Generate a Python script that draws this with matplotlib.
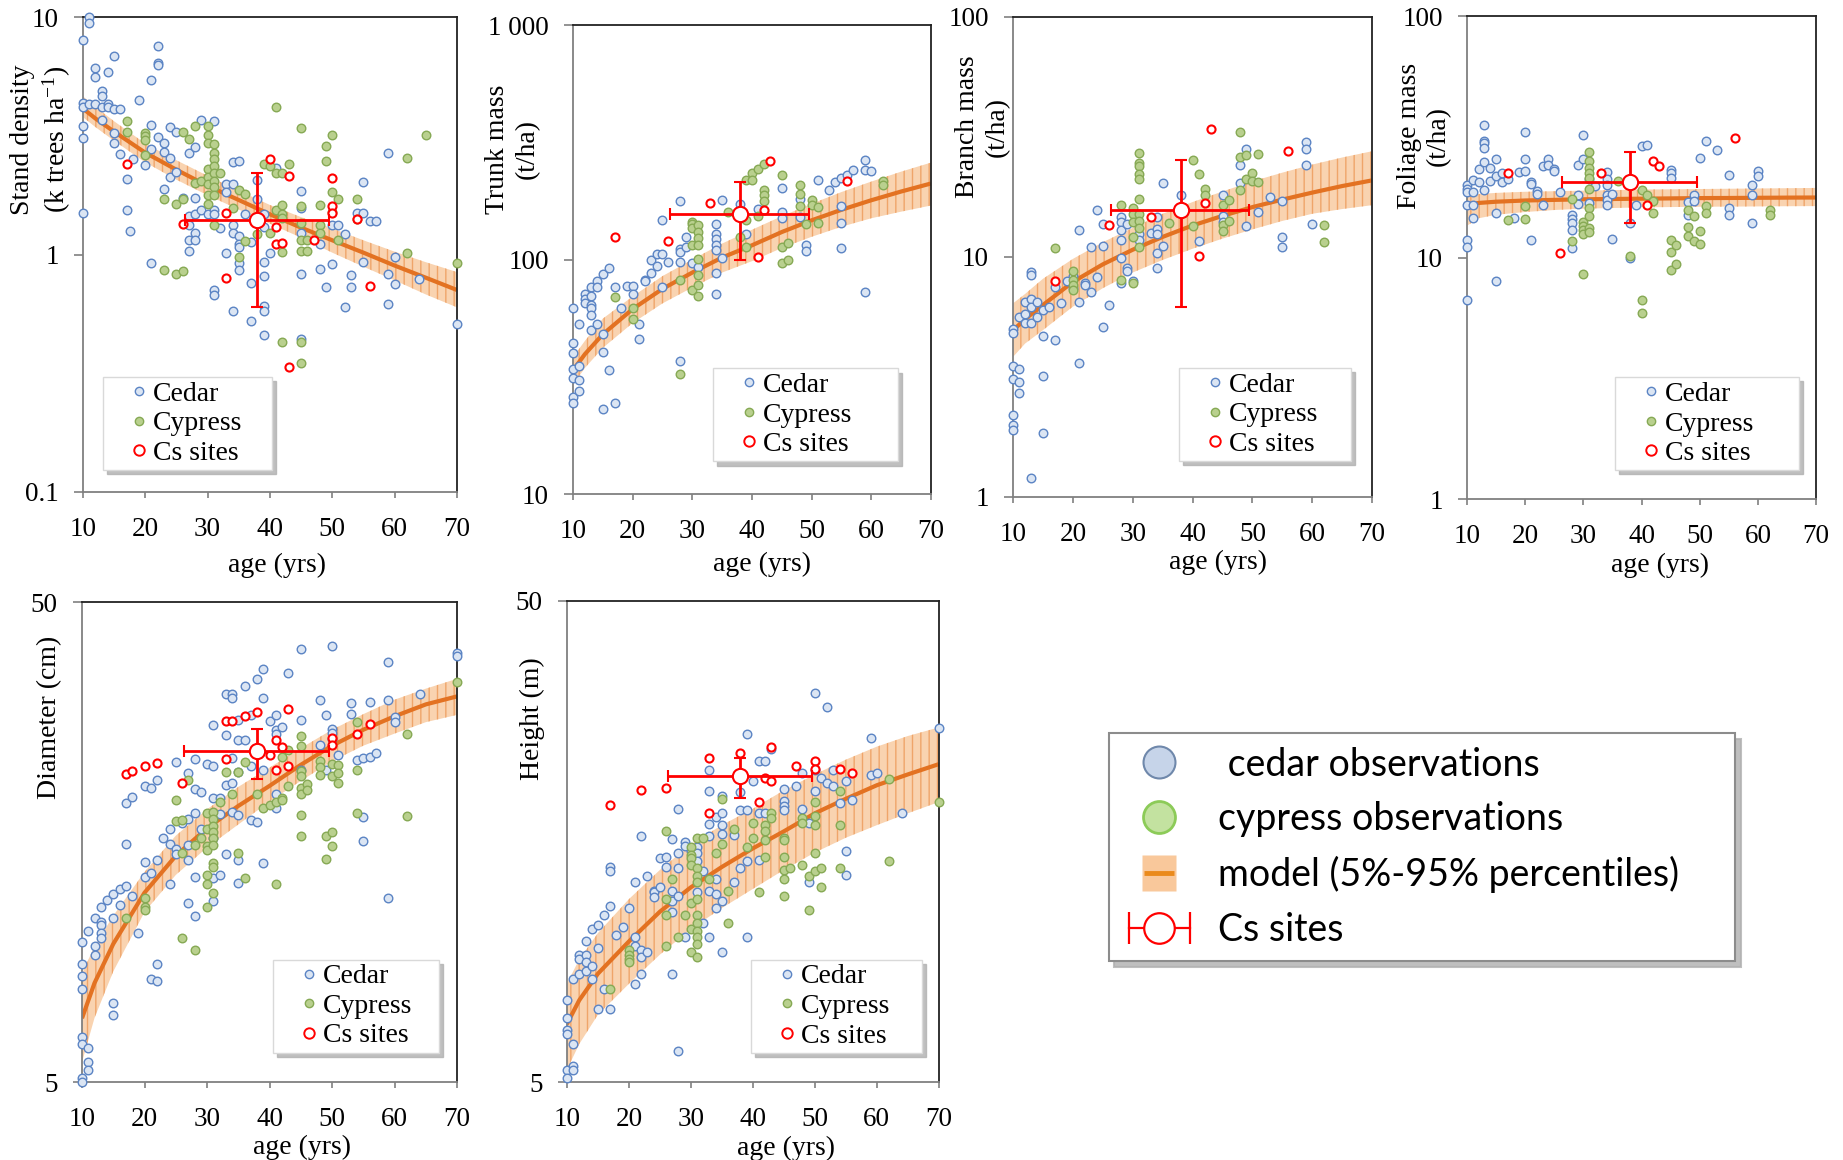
import matplotlib
matplotlib.use('Agg')
import matplotlib.pyplot as plt
from matplotlib.lines import Line2D
from matplotlib.path import Path
from matplotlib.ticker import NullLocator
from matplotlib.legend_handler import HandlerLine2D, HandlerTuple

plt.rcParams['font.family'] = ['Liberation Serif', 'DejaVu Serif']
plt.rcParams['mathtext.fontset'] = 'custom'
plt.rcParams['mathtext.rm'] = 'Liberation Serif'
plt.rcParams['mathtext.it'] = 'Liberation Serif:italic'
plt.rcParams['hatch.linewidth'] = 1.0

# ---------------- data ----------------
cs_age_mean, cs_age_lo, cs_age_hi = 38, 26.3, 49.5
model_age = [10, 12, 15, 20, 25, 30, 35, 40, 45, 50, 55, 60, 65, 70]

# stand density (k trees/ha)
density_cedar = [(10, 8.0), (10, 4.36), (10, 4.2), (10, 3.5), (10, 3.1), (10, 1.5), (11, 10.0), (11, 9.5), (11, 4.3),
                 (12, 6.1), (12, 5.6), (12, 4.3), (13, 4.9), (13, 4.65), (13, 4.2), (13, 3.7), (14, 5.9), (14, 4.3),
                 (14, 4.2), (15, 6.9), (15, 4.1), (15, 3.27), (15, 2.96), (16, 4.1), (16, 2.66), (17, 2.09), (17, 1.55),
                 (17.5, 1.26), (18, 2.54), (19, 4.5), (20, 2.39), (21, 5.45), (21, 3.51), (21, 2.78), (21, 0.92),
                 (22, 7.6), (22, 6.45), (22, 6.3), (22, 3.12), (23, 2.96), (23, 2.71), (23, 1.9), (24, 3.45), (24, 2.56),
                 (24, 2.12), (25, 3.3), (25, 2.24), (26, 1.74), (27, 2.68), (27, 1.46), (27, 1.33), (27, 1.15), (27, 1.04),
                 (28, 2.83), (28, 1.73), (28, 1.48), (28, 1.24), (28, 1.15), (29, 3.7), (29, 1.54), (30, 1.48), (31, 3.67),
                 (31, 1.54), (31, 1.48), (31, 0.71), (31, 0.674), (32, 1.29), (33, 1.98), (33, 1.84), (33, 1.02),
                 (34, 1.98), (34, 2.45), (34, 1.33), (34, 1.24), (34, 0.58), (35, 2.48), (35, 1.2), (35, 1.11), (35, 1.08),
                 (35, 0.92), (35, 0.866), (36, 1.49), (37, 1.13), (37, 0.76), (37, 0.524), (38, 2.07), (38, 1.71),
                 (39, 1.49), (39, 1.31), (39, 0.93), (39, 0.81), (39, 0.61), (39, 0.58), (39, 0.46), (40, 1.02), (41, 2.32),
                 (45, 1.86), (45, 1.57), (45, 1.24), (45, 0.83), (45, 0.44), (48, 1.11), (48, 0.87), (49, 0.73), (50, 1.33),
                 (50, 0.91), (51, 1.33), (52, 1.22), (52, 0.6), (53, 0.82), (53, 0.73), (54, 1.5), (55, 1.5), (55, 2.03),
                 (55, 0.93), (56, 1.38), (57, 1.38), (59, 2.68), (59, 0.83), (59, 0.62), (60, 0.98), (60, 0.75), (64, 0.79),
                 (70, 0.51)]
density_cypress = [(17, 3.65), (17, 3.3), (20, 3.27), (20, 3.16), (20, 3.05), (20, 2.64), (23, 1.71), (23, 0.86), (25, 1.64),
                   (25, 0.83), (26, 1.71), (26, 3.3), (26, 0.85), (27, 3.06), (28, 3.5), (28, 2.0), (29, 2.05), (30, 3.5),
                   (30, 3.2), (30, 2.97), (30, 2.3), (30, 2.13), (30, 1.98), (30, 1.78), (30, 1.63), (31, 2.93), (31, 2.68),
                   (31, 2.52), (31, 2.36), (31, 2.2), (31, 2.05), (31, 1.92), (31, 1.78), (31, 1.33), (32, 2.2), (34, 1.58),
                   (35, 1.87), (35, 0.98), (36, 1.81), (36, 1.14), (38, 1.22), (39, 2.4), (40, 2.36), (40, 1.24), (41, 4.2),
                   (41, 2.2), (41, 1.54), (42, 2.2), (42, 1.62), (42, 1.48), (42, 1.43), (42, 1.03), (42, 0.43), (43, 2.4),
                   (45, 3.42), (45, 1.61), (45, 1.36), (45, 1.15), (45, 1.04), (45, 0.43), (45, 0.35), (46, 1.15), (46, 1.04),
                   (48, 1.62), (48, 1.33), (48, 1.24), (49, 2.87), (49, 2.48), (50, 3.2), (50, 1.84), (50, 1.51), (51, 1.71),
                   (51, 1.15), (54, 1.71), (54, 1.41), (62, 2.56), (62, 1.02), (65, 3.2), (70, 0.92)]
density_cs = [(17, 2.4), (26, 1.35), (33, 1.5), (33, 0.80), (40, 2.52), (41, 1.31), (41, 1.11), (42, 1.12), (43, 2.15),
              (43, 0.337), (47, 1.15), (50, 2.11), (50, 1.61), (50, 1.5), (54, 1.41), (56, 0.74)]
density_mid = [4.13, 3.75, 3.30, 2.69, 2.28, 1.95, 1.70, 1.48, 1.30, 1.15, 1.02, 0.90, 0.80, 0.71]
density_lo = [3.80, 3.45, 3.02, 2.45, 2.07, 1.78, 1.55, 1.35, 1.18, 1.02, 0.89, 0.78, 0.68, 0.60]
density_hi = [4.65, 4.20, 3.65, 2.94, 2.50, 2.15, 1.86, 1.62, 1.44, 1.29, 1.15, 1.03, 0.93, 0.845]
density_site = (1.40, 0.60, 2.2)

# trunk mass (t/ha)
trunk_cedar = [(10, 62), (10, 44), (10, 40), (10, 34), (10, 31.4), (10, 26), (10, 24.5), (11, 53), (11, 35), (11, 30.5),
               (11, 27.5), (12, 71), (12, 68), (12, 65), (13, 76), (13, 70), (13, 64), (13, 62), (13, 58), (13, 50),
               (14, 81), (14, 76), (14, 53), (15, 87), (15, 48), (15, 40.5), (15, 23), (16, 92), (16, 33.7), (17, 76),
               (17, 24.5), (18, 62), (19, 77), (20, 77), (20, 71), (21, 53), (21, 46), (22, 82), (22, 81), (23, 100),
               (23, 88), (24, 106), (24, 94), (25, 106), (25, 76), (25, 147), (26, 98), (28, 177), (28, 111), (28, 108),
               (28, 98), (28, 37), (29, 125), (29, 113), (30, 97), (31, 93), (34, 142), (34, 129), (34, 122), (34, 115),
               (34, 110), (34, 88), (34, 71), (35, 179), (35, 102), (38, 172), (39, 129), (41, 165), (45, 201), (45, 160),
               (45, 150), (48, 182), (48, 152), (49, 115), (49, 109), (51, 219), (53, 198), (54, 214), (55, 222), (55, 169),
               (55, 143), (55, 112), (56, 230), (57, 240), (59, 267), (59, 240), (59, 73), (60, 238)]
trunk_cypress = [(17, 69), (20, 62), (20, 56), (28, 82), (28, 32.6), (30, 145), (30, 142), (30, 136), (30, 115), (30, 74),
                 (31, 141), (31, 131), (31, 123), (31, 115), (31, 101), (31, 86), (31, 78), (31, 70), (36, 160), (38, 125),
                 (39, 219), (39, 113), (39, 147), (40, 233), (40, 218), (41, 243), (41, 153), (42, 256), (42, 198), (42, 188),
                 (42, 177), (45, 229), (45, 113), (45, 97), (46, 118), (46, 100), (48, 207), (48, 190), (48, 169), (49, 142),
                 (50, 179), (50, 171), (51, 167), (51, 143), (62, 216), (62, 207)]
trunk_cs = [(17, 125), (26, 120), (33, 174), (41, 103), (42, 162), (43, 262), (56, 216)]
trunk_mid = [33.7, 39.5, 48, 61.5, 75, 88, 102, 115, 131, 147, 163, 179, 195, 211]
trunk_lo = [29.2, 34.5, 42, 53.6, 65, 76, 88, 98.4, 112, 125, 138, 150, 160, 170]
trunk_hi = [38.3, 45, 56, 69.6, 85, 100, 117, 134, 153, 173, 194, 215, 237, 259]
trunk_site = (157, 100, 214)

# branch mass (t/ha)
branch_cedar = [(10, 5.0), (10, 4.8), (10, 3.5), (10, 3.1), (10, 2.2), (10, 2.0), (10, 1.9), (11, 5.6), (11, 3.4), (11, 3.0),
                (11, 2.7), (12, 6.5), (12, 5.8), (12, 5.3), (13, 8.6), (13, 8.4), (13, 6.7), (13, 6.2), (13, 5.3), (13, 1.2),
                (14, 6.5), (14, 5.6), (15, 6.0), (15, 4.7), (15, 3.2), (15, 1.85), (16, 6.2), (17, 7.5), (17, 4.5),
                (18, 6.4), (19, 7.9), (20, 8.3), (20, 7.4), (21, 12.9), (21, 6.5), (21, 3.6), (22, 7.8), (22, 7.6),
                (23, 11.0), (23, 7.1), (24, 15.6), (24, 8.2), (25, 13.7), (25, 11.1), (25, 5.1), (26, 6.3), (28, 14.7),
                (28, 14.0), (28, 12.9), (28, 11.8), (28, 9.9), (28, 7.8), (29, 13.7), (29, 9.0), (29, 8.7), (30, 7.9),
                (31, 12.4), (31, 11.7), (33, 12.6), (34, 14.7), (34, 13.1), (34, 12.4), (34, 10.4), (34, 9.0), (35, 20.2),
                (35, 11.1), (38, 18.0), (38, 16.0), (41, 11.6), (45, 18.1), (45, 14.8), (45, 14.0), (48, 24.2), (48, 20.2),
                (49, 28.1), (49, 13.4), (51, 15.3), (53, 17.7), (55, 17.1), (55, 12.1), (55, 11.0), (59, 30.1), (59, 28.1),
                (59, 24.2), (60, 13.7)]
branch_cypress = [(17, 10.9), (20, 8.7), (20, 8.0), (20, 7.6), (20, 7.3), (28, 16.5), (28, 8.0), (30, 16.0), (30, 15.0),
                  (30, 14.0), (30, 12.1), (30, 7.8), (31, 27.1), (31, 24.5), (31, 23.9), (31, 22.1), (31, 21.0), (31, 17.4),
                  (31, 15.0), (31, 14.1), (31, 13.2), (31, 11.0), (36, 13.8), (40, 25.2), (40, 13.4), (41, 22.1), (42, 19.1),
                  (42, 18.0), (45, 16.4), (45, 13.5), (45, 12.8), (46, 17.3), (46, 14.1), (48, 33.0), (48, 26.0), (48, 18.9),
                  (49, 26.6), (49, 21.0), (50, 22.3), (50, 20.6), (51, 26.8), (51, 20.4), (62, 13.6), (62, 11.5)]
branch_cs = [(17, 7.9), (26, 13.6), (33, 14.7), (41, 10.1), (42, 16.7), (43, 34.2), (56, 27.6)]
branch_mid = [4.94, 5.5, 6.3, 7.86, 9.3, 10.7, 12.1, 13.5, 14.8, 16.1, 17.3, 18.5, 19.7, 20.8]
branch_lo = [3.83, 4.35, 4.95, 6.2, 7.4, 8.6, 9.7, 10.8, 11.9, 13.0, 14.1, 15.1, 15.8, 16.4]
branch_hi = [6.4, 7.0, 8.1, 9.8, 11.5, 13.2, 15.1, 16.9, 18.7, 20.6, 22.4, 24.2, 25.9, 27.5]
branch_site = (15.7, 6.2, 25.2)

# foliage mass (t/ha)
foliage_cedar = [(10, 20.1), (10, 19.3), (10, 18.8), (10, 16.6), (10, 11.9), (10, 11.1), (10, 6.7), (11, 21.0), (11, 18.8),
                 (11, 16.5), (11, 14.7), (12, 23.3), (12, 20.7), (13, 35.4), (13, 30.6), (13, 29.9), (13, 28.5), (13, 24.9),
                 (13, 19.1), (14, 23.5), (14, 20.8), (15, 25.7), (15, 21.8), (15, 15.3), (15, 8.0), (16, 22.4), (16, 20.7),
                 (17, 21.2), (18, 14.7), (19, 22.8), (20, 33.2), (20, 25.7), (20, 23.0), (21, 20.6), (21, 20.2), (21, 11.9),
                 (22, 18.9), (22, 18.4), (23, 24.0), (23, 16.5), (24, 25.7), (24, 24.2), (25, 23.4), (25, 23.0), (26, 18.8),
                 (28, 15.1), (28, 14.5), (28, 13.9), (28, 13.1), (28, 11.0), (29, 24.2), (29, 18.2), (29, 16.7), (30, 32.2),
                 (30, 25.7), (31, 21.2), (31, 16.9), (32, 19.8), (34, 22.8), (34, 21.3), (34, 20.1), (34, 18.2), (34, 17.4),
                 (34, 16.6), (35, 18.4), (35, 12.0), (38, 14.0), (38, 10.0), (39, 16.6), (40, 29.1), (41, 29.4), (45, 23.2),
                 (45, 22.4), (45, 21.5), (48, 17.1), (48, 15.1), (49, 18.2), (49, 17.2), (50, 25.9), (51, 30.4), (53, 28.1),
                 (55, 22.0), (55, 16.1), (55, 15.1), (59, 20.0), (59, 18.2), (59, 14.0), (60, 23.0), (60, 21.9)]
foliage_cypress = [(17, 14.3), (20, 16.4), (20, 14.5), (28, 17.5), (28, 11.8), (30, 14.1), (30, 13.6), (30, 13.1), (30, 12.6),
                   (30, 8.6), (31, 27.5), (31, 25.1), (31, 23.6), (31, 22.4), (31, 21.5), (31, 19.3), (31, 16.1), (31, 14.9),
                   (31, 13.3), (31, 12.8), (36, 20.8), (38, 10.2), (40, 19.1), (40, 6.7), (40, 5.9), (41, 18.2), (42, 17.2),
                   (42, 15.4), (45, 11.9), (45, 10.6), (45, 8.9), (46, 11.3), (46, 9.4), (48, 15.8), (48, 13.4), (48, 12.3),
                   (49, 14.9), (49, 11.8), (50, 12.9), (50, 11.4), (51, 16.4), (51, 15.3), (62, 15.8), (62, 15.0)]
foliage_cs = [(17, 22.4), (26, 10.5), (33, 22.4), (41, 16.6), (42, 25.1), (43, 24.0), (56, 31.5)]
foliage_mid = [16.6, 16.9, 17.1, 17.3, 17.4, 17.5, 17.55, 17.6, 17.65, 17.7, 17.72, 17.75, 17.78, 17.8]
foliage_lo = [13.6, 14.6, 15.1, 15.5, 15.8, 16.0, 16.1, 16.2, 16.25, 16.3, 16.32, 16.35, 16.38, 16.4]
foliage_hi = [18.1, 18.4, 18.6, 18.8, 18.9, 19.0, 19.1, 19.2, 19.25, 19.3, 19.35, 19.4, 19.45, 19.5]
foliage_site = (20.7, 14.0, 27.4)

# diameter (cm)
diameter_cedar = [(10, 9.8), (10, 8.8), (10, 8.3), (10, 7.8), (10, 6.2), (10, 6.0), (10, 5.1), (10, 5.0), (11, 10.3), (11, 5.9),
                  (11, 5.5), (11, 5.3), (12, 11.0), (12, 9.6), (12, 9.2), (13, 11.6), (13, 10.8), (13, 10.6), (13, 10.2),
                  (13, 10.0), (14, 12.0), (15, 12.3), (15, 11.0), (15, 7.3), (15, 6.9), (16, 12.6), (16, 11.7), (17, 19.1),
                  (17, 15.7), (17, 12.8), (18, 19.6), (18, 12.2), (19, 10.2), (20, 20.7), (20, 14.4), (20, 13.4), (21, 20.5),
                  (21, 13.6), (21, 8.2), (22, 21.3), (22, 14.5), (22, 8.8), (22, 8.1), (23, 16.1), (24, 16.8), (24, 15.7),
                  (24, 12.9), (25, 23.2), (25, 15.3), (25, 14.9), (26, 17.3), (27, 22.0), (27, 17.7), (27, 15.6), (27, 14.5),
                  (27, 11.8), (28, 23.6), (28, 20.4), (28, 18.2), (28, 13.4), (28, 11.1), (29, 20.1), (29, 16.8), (30, 23.0),
                  (31, 27.7), (31, 22.8), (31, 19.5), (31, 16.1), (31, 13.3), (31, 11.9), (32, 19.5), (32, 18.1), (32, 13.5),
                  (33, 32.1), (33, 26.4), (33, 20.8), (33, 14.9), (34, 32.1), (34, 31.6), (34, 23.7), (34, 21.0), (34, 18.3),
                  (35, 28.4), (35, 25.8), (35, 22.1), (35, 18.0), (35, 14.5), (35, 13.0), (36, 33.5), (36, 25.8), (37, 29.1),
                  (37, 22.8), (37, 17.6), (38, 34.6), (38, 17.4), (39, 36.3), (39, 31.5), (39, 22.3), (39, 14.3), (40, 28.3),
                  (41, 29.1), (41, 27.1), (41, 26.6), (41, 19.9), (41, 18.6), (42, 27.5), (43, 35.5), (45, 39.9), (45, 28.4),
                  (45, 22.3), (48, 31.3), (48, 25.2), (49, 29.1), (49, 22.3), (50, 40.4), (50, 27.2), (50, 26.7), (50, 25.9),
                  (51, 24.0), (53, 30.8), (53, 29.2), (54, 23.4), (55, 23.7), (55, 17.8), (55, 15.9), (56, 31.0), (56, 23.8),
                  (57, 24.2), (59, 37.5), (59, 31.3), (59, 12.1), (60, 28.8), (60, 28.1), (64, 32.1), (70, 39.2), (70, 38.6)]
diameter_cypress = [(17, 11.0), (20, 12.1), (20, 11.6), (20, 11.4), (25, 19.3), (25, 17.5), (26, 17.6), (26, 15.0), (26, 10.0),
                    (27, 21.3), (28, 15.6), (28, 9.4), (29, 16.1), (30, 18.2), (30, 16.8), (30, 15.5), (30, 15.2), (30, 13.5),
                    (30, 12.9), (30, 11.6), (31, 18.3), (31, 17.7), (31, 17.1), (31, 16.6), (31, 16.1), (31, 15.6), (31, 14.3),
                    (31, 14.0), (31, 12.4), (32, 19.2), (33, 22.1), (34, 19.9), (35, 22.1), (35, 15.0), (36, 23.2), (36, 13.3),
                    (38, 19.9), (39, 18.6), (40, 18.9), (41, 19.2), (41, 12.9), (42, 23.8), (42, 19.5), (42, 19.3), (43, 24.6),
                    (43, 20.7), (45, 26.3), (45, 25.1), (45, 22.2), (45, 21.7), (45, 20.5), (45, 19.9), (45, 18.0), (45, 16.3),
                    (46, 20.9), (46, 20.3), (48, 23.3), (48, 22.7), (48, 21.8), (49, 16.3), (49, 14.6), (50, 23.0), (50, 21.7),
                    (50, 16.6), (50, 15.5), (51, 22.9), (51, 22.0), (51, 21.0), (54, 28.1), (54, 22.3), (54, 18.2), (62, 26.6),
                    (62, 17.9), (70, 34.1)]
diameter_cs = [(17, 21.9), (18, 22.2), (20, 22.8), (22, 23.1), (26, 21.0), (33, 28.3), (33, 23.5), (34, 28.3), (36, 29.0),
               (38, 29.5), (40, 24.0), (41, 25.8), (41, 22.3), (42, 25.0), (43, 29.9), (43, 22.8), (50, 26.0), (50, 25.2),
               (54, 26.5), (56, 27.9)]
diameter_mid = [6.79, 8.04, 9.7, 12.4, 14.8, 16.9, 18.8, 20.7, 22.9, 25.1, 27.1, 28.9, 30.6, 31.8]
diameter_lo = [5.5, 6.8, 8.5, 11.3, 13.5, 15.4, 17.2, 19.2, 21.2, 23.3, 25.1, 26.6, 28.1, 29.1]
diameter_hi = [8.4, 9.6, 11.1, 13.7, 16.3, 18.5, 20.6, 22.6, 24.8, 27.1, 29.2, 31.3, 33.0, 34.6]
diameter_site = (24.5, 21.4, 27.2)

# height (m)
height_cedar = [(10, 7.4), (10, 6.8), (10, 6.4), (10, 6.3), (10, 5.3), (10, 5.1), (11, 8.2), (11, 6.0), (11, 5.4), (11, 5.3),
                (12, 9.2), (12, 9.0), (12, 8.4), (13, 9.8), (13, 9.2), (13, 8.9), (13, 8.5), (14, 10.4), (14, 8.7), (14, 8.2),
                (15, 10.6), (15, 9.5), (15, 7.1), (16, 11.1), (16, 7.8), (17, 14.0), (17, 13.7), (17, 11.6), (17, 7.1),
                (18, 10.1), (19, 10.5), (20, 11.5), (21, 13.0), (21, 10.0), (21, 9.6), (21, 8.0), (22, 16.2), (22, 9.4),
                (22, 9.1), (22, 8.4), (23, 13.4), (23, 9.3), (24, 12.5), (24, 12.4), (24, 12.1), (25, 14.6), (25, 12.7),
                (26, 14.7), (26, 14.0), (27, 16.0), (27, 12.5), (27, 11.9), (27, 11.3), (27, 8.4), (28, 18.5), (28, 15.0),
                (28, 13.9), (28, 12.2), (28, 5.8), (29, 15.8), (29, 15.5), (29, 10.0), (30, 15.1), (31, 15.4), (31, 15.0),
                (31, 14.4), (31, 12.4), (32, 13.7), (32, 10.7), (33, 22.3), (33, 20.1), (33, 17.2), (33, 16.2), (33, 12.5),
                (33, 10.0), (34, 17.8), (34, 13.2), (34, 12.3), (34, 11.5), (35, 19.7), (35, 18.1), (35, 17.1), (35, 16.4),
                (35, 11.9), (35, 9.3), (37, 16.3), (37, 13.0), (38, 20.0), (38, 18.4), (38, 13.9), (39, 26.4), (39, 18.4),
                (39, 14.4), (39, 10.0), (40, 21.1), (41, 23.2), (41, 18.1), (41, 14.5), (42, 23.2), (42, 18.1), (43, 24.6),
                (45, 20.3), (45, 19.2), (45, 18.7), (45, 18.4), (47, 20.6), (48, 22.0), (48, 18.5), (49, 17.3), (49, 13.0),
                (50, 32.2), (50, 22.3), (50, 20.1), (51, 21.4), (52, 30.1), (52, 20.9), (53, 22.3), (53, 20.6), (54, 19.0),
                (55, 21.1), (55, 15.1), (55, 13.5), (56, 19.3), (59, 26.0), (59, 21.7), (60, 22.0), (64, 18.1), (70, 27.2)]
height_cypress = [(17, 7.8), (20, 9.4), (20, 9.2), (20, 9.0), (20, 8.9), (26, 16.6), (26, 12.0), (26, 11.1), (26, 9.6),
                  (27, 13.2), (28, 10.0), (29, 11.1), (30, 15.4), (30, 14.8), (30, 14.6), (30, 14.1), (30, 11.8), (30, 10.4),
                  (30, 9.3), (31, 16.1), (31, 13.9), (31, 13.4), (31, 13.0), (31, 12.0), (31, 11.1), (31, 10.7), (31, 10.3),
                  (31, 10.0), (31, 9.7), (31, 9.1), (32, 16.1), (33, 13.2), (34, 15.0), (35, 19.4), (35, 15.6), (36, 12.5),
                  (36, 10.7), (37, 16.8), (39, 15.4), (40, 17.3), (40, 16.1), (41, 12.4), (42, 17.1), (42, 16.6), (42, 15.9),
                  (42, 14.7), (43, 18.1), (43, 17.7), (45, 16.1), (45, 15.9), (45, 14.7), (45, 13.8), (45, 13.2), (45, 12.2),
                  (46, 13.9), (48, 17.7), (48, 17.3), (48, 14.1), (49, 13.4), (49, 11.4), (50, 19.1), (50, 17.9), (50, 17.1),
                  (50, 15.0), (50, 13.7), (51, 13.9), (51, 12.7), (54, 20.1), (54, 17.1), (54, 13.9), (62, 21.3), (62, 14.4),
                  (70, 19.1)]
height_cs = [(17, 18.8), (22, 20.2), (26, 20.4), (33, 23.6), (33, 18.1), (38, 24.1), (41, 19.1), (42, 21.4), (43, 24.8),
             (43, 21.1), (47, 22.7), (50, 23.3), (50, 22.4), (54, 22.4), (56, 22.0)]
height_mid = [6.6, 7.4, 8.4, 9.8, 11.3, 12.7, 14.0, 15.3, 16.6, 18.1, 19.4, 20.7, 21.8, 22.9]
height_lo = [5.3, 6.0, 6.9, 8.0, 9.2, 10.4, 11.5, 12.6, 13.8, 15.0, 16.1, 17.1, 18.1, 19.1]
height_hi = [8.0, 9.0, 10.2, 12.0, 13.8, 15.6, 17.1, 18.5, 20.2, 21.8, 23.4, 24.9, 26.2, 27.3]
height_site = (21.6, 19.5, 23.6)

# ---------------- style ----------------
CEDAR_FC, CEDAR_EC = '#dbe5f3', '#5b84c4'
CYP_FC, CYP_EC = '#b9d08e', '#86a954'
RED = '#ff0000'
LINE_C = '#e37222'
BAND_FC, BAND_HC = '#f9d3b0', '#efa56a'
SERIF = 'Liberation Serif'


def unzip(points):
    return [p[0] for p in points], [p[1] for p in points]


def draw_panel(ax, cedar, cypress, cs, mid, lo, hi, site, ylim, yticks, yticklabels,
               ylabel, ylabel_xy, xlabel_xy, leg_box):
    ax.set_yscale('log')
    ax.fill_between(model_age, lo, hi, facecolor=BAND_FC, edgecolor=BAND_HC, linewidth=0,
                    hatch='||', zorder=1)
    ax.plot(model_age, mid, color=LINE_C, lw=3, zorder=2, solid_capstyle='butt')

    x, y = unzip(cedar)
    ax.scatter(x, y, s=38, facecolor=CEDAR_FC, edgecolor=CEDAR_EC, linewidths=1.0, zorder=3, clip_on=False)
    x, y = unzip(cypress)
    ax.scatter(x, y, s=38, facecolor=CYP_FC, edgecolor=CYP_EC, linewidths=1.0, zorder=3, clip_on=False)
    x, y = unzip(cs)
    ax.scatter(x, y, s=34, facecolor='white', edgecolor=RED, linewidths=1.5, zorder=4, clip_on=False)

    yc, ylo, yhi = site
    ax.errorbar([cs_age_mean], [yc], xerr=[[cs_age_mean - cs_age_lo], [cs_age_hi - cs_age_mean]],
                yerr=[[yc - ylo], [yhi - yc]], fmt='o', ms=11, mfc='white', mec=RED, mew=1.5,
                ecolor=RED, elinewidth=2, capsize=4.5, capthick=2, zorder=6)

    ax.set_xlim(10, 70)
    ax.set_ylim(*ylim)
    ax.set_xticks([10, 20, 30, 40, 50, 60, 70])
    ax.set_yticks(yticks)
    ax.set_yticklabels(yticklabels)
    ax.yaxis.set_minor_locator(NullLocator())
    ax.tick_params(axis='both', labelsize=19.5, color='#808080', width=1.2)
    ax.tick_params(axis='y', length=6.5, pad=11)
    ax.tick_params(axis='x', length=4, pad=14)
    for side in ['left', 'bottom']:
        ax.spines[side].set_color('#808080')
        ax.spines[side].set_linewidth(1.3)
    for side in ['top', 'right']:
        ax.spines[side].set_color('#222222')
        ax.spines[side].set_linewidth(1.3)

    ax.set_ylabel(ylabel, fontsize=20, linespacing=1.25)
    ax.yaxis.set_label_coords(*ylabel_xy)
    ax.set_xlabel('age (yrs)', fontsize=20)
    ax.xaxis.set_label_coords(*xlabel_xy)

    handles = [
        Line2D([], [], ls='none', marker='o', ms=6, mfc=CEDAR_FC, mec=CEDAR_EC, mew=1.0),
        Line2D([], [], ls='none', marker='o', ms=6, mfc=CYP_FC, mec=CYP_EC, mew=1.0),
        Line2D([], [], ls='none', marker='o', ms=7.5, mfc='white', mec=RED, mew=1.4),
    ]
    leg = ax.legend(handles, ['Cedar', 'Cypress', 'Cs sites'], loc='upper left',
                    bbox_to_anchor=leg_box, mode='expand', borderaxespad=0,
                    prop={'family': SERIF, 'size': 20}, frameon=True, fancybox=False,
                    edgecolor='#d9d9d9', framealpha=1,
                    shadow={'ox': 3, 'oy': -3, 'color': '#b0b0b0', 'alpha': 0.8},
                    borderpad=0.15, handlelength=2.3, handletextpad=-0.65, labelspacing=0.15)
    leg.get_frame().set_linewidth(1.0)
    leg.set_zorder(10)


fig = plt.figure(figsize=(18.43, 11.6), dpi=100)

# legend boxes: (x0, y_bottom, width, height) in axes fraction; top edge = y_bottom + height
panels = [
    ([0.0450, 0.5759, 0.2029, 0.4091], density_cedar, density_cypress, density_cs,
     density_mid, density_lo, density_hi, density_site, (0.1, 10), [0.1, 1, 10], ['0.1', '1', '10'],
     'Stand density\n(k trees ha$^{-1}$)', (-0.027, 0.742), (0.52, -0.128), (0.053, 0.036, 0.452, 0.206)),
    ([0.3109, 0.5741, 0.1942, 0.4043], trunk_cedar, trunk_cypress, trunk_cs,
     trunk_mid, trunk_lo, trunk_hi, trunk_site, (10, 1000), [10, 100, 1000], ['10', '100', '1 000'],
     'Trunk mass\n(t/ha)', (-0.092, 0.735), (0.528, -0.123), (0.391, 0.028, 0.517, 0.240)),
    ([0.5497, 0.5716, 0.1948, 0.4141], branch_cedar, branch_cypress, branch_cs,
     branch_mid, branch_lo, branch_hi, branch_site, (1, 100), [1, 10, 100], ['1', '10', '100'],
     'Branch mass\n(t/ha)', (-0.008, 0.77), (0.571, -0.111), (0.462, 0.042, 0.478, 0.226)),
    ([0.7960, 0.5694, 0.1894, 0.4164], foliage_cedar, foliage_cypress, foliage_cs,
     foliage_mid, foliage_lo, foliage_hi, foliage_site, (1, 100), [1, 10, 100], ['1', '10', '100'],
     'Foliage mass\n(t/ha)', (-0.045, 0.752), (0.553, -0.11), (0.424, 0.037, 0.526, 0.216)),
    ([0.0445, 0.0672, 0.2035, 0.4138], diameter_cedar, diameter_cypress, diameter_cs,
     diameter_mid, diameter_lo, diameter_hi, diameter_site, (5, 50), [5, 50], ['5', '50'],
     'Diameter (cm)', (-0.052, 0.76), (0.587, -0.111), (0.509, 0.03, 0.443, 0.225)),
    ([0.3076, 0.0672, 0.2018, 0.4147], height_cedar, height_cypress, height_cs,
     height_mid, height_lo, height_hi, height_site, (5, 50), [5, 50], ['5', '50'],
     'Height (m)', (-0.06, 0.755), (0.59, -0.111), (0.495, 0.032, 0.459, 0.222)),
]

for rect, *args in panels:
    ax = fig.add_axes(rect)
    draw_panel(ax, *args)

# ---------------- shared legend ----------------
rect_path = Path([(-0.47, -0.5), (0.47, -0.5), (0.47, 0.5), (-0.47, 0.5), (-0.47, -0.5)],
                 [Path.MOVETO, Path.LINETO, Path.LINETO, Path.LINETO, Path.CLOSEPOLY])
cedar_h = Line2D([], [], ls='none', marker='o', ms=23, mfc='#c6d4e9', mec='#6f88ab', mew=1.5)
cypress_h = Line2D([], [], ls='none', marker='o', ms=23, mfc='#c3e2a0', mec='#8ccb58', mew=2.0)
band_h = Line2D([], [], ls='none', marker=rect_path, ms=26, mfc='#f9c89b', mec='none')
mline_h = Line2D([], [], ls='none', marker='_', ms=22, mec='#ea8a1c', mew=3.5)
caps_h = Line2D([], [], color=RED, lw=1.6, marker='|', ms=23, mew=1.6)
circ_h = Line2D([], [], ls='none', marker='o', ms=22, mfc='white', mec=RED, mew=1.6)

fig_leg = fig.legend([cedar_h, cypress_h, (band_h, mline_h), (caps_h, circ_h)],
                     [' cedar observations', 'cypress observations', 'model (5%-95% percentiles)', 'Cs sites'],
                     loc='upper left', bbox_to_anchor=(0.6017, 0.1724, 0.3397, 0.1957), mode='expand',
                     borderaxespad=0, prop={'family': 'Lato', 'size': 27}, frameon=True, fancybox=False,
                     edgecolor='#8c8c8c', framealpha=1,
                     shadow={'ox': 4, 'oy': -4, 'color': '#b0b0b0', 'alpha': 0.8},
                     borderpad=0.36, handlelength=1.96, handletextpad=0.6, labelspacing=0.5,
                     handler_map={caps_h: HandlerLine2D(numpoints=2, marker_pad=0.17),
                                  tuple: HandlerTuple(ndivide=1)})
fig_leg.get_frame().set_linewidth(1.5)

fig.savefig('out.png', dpi=100)
